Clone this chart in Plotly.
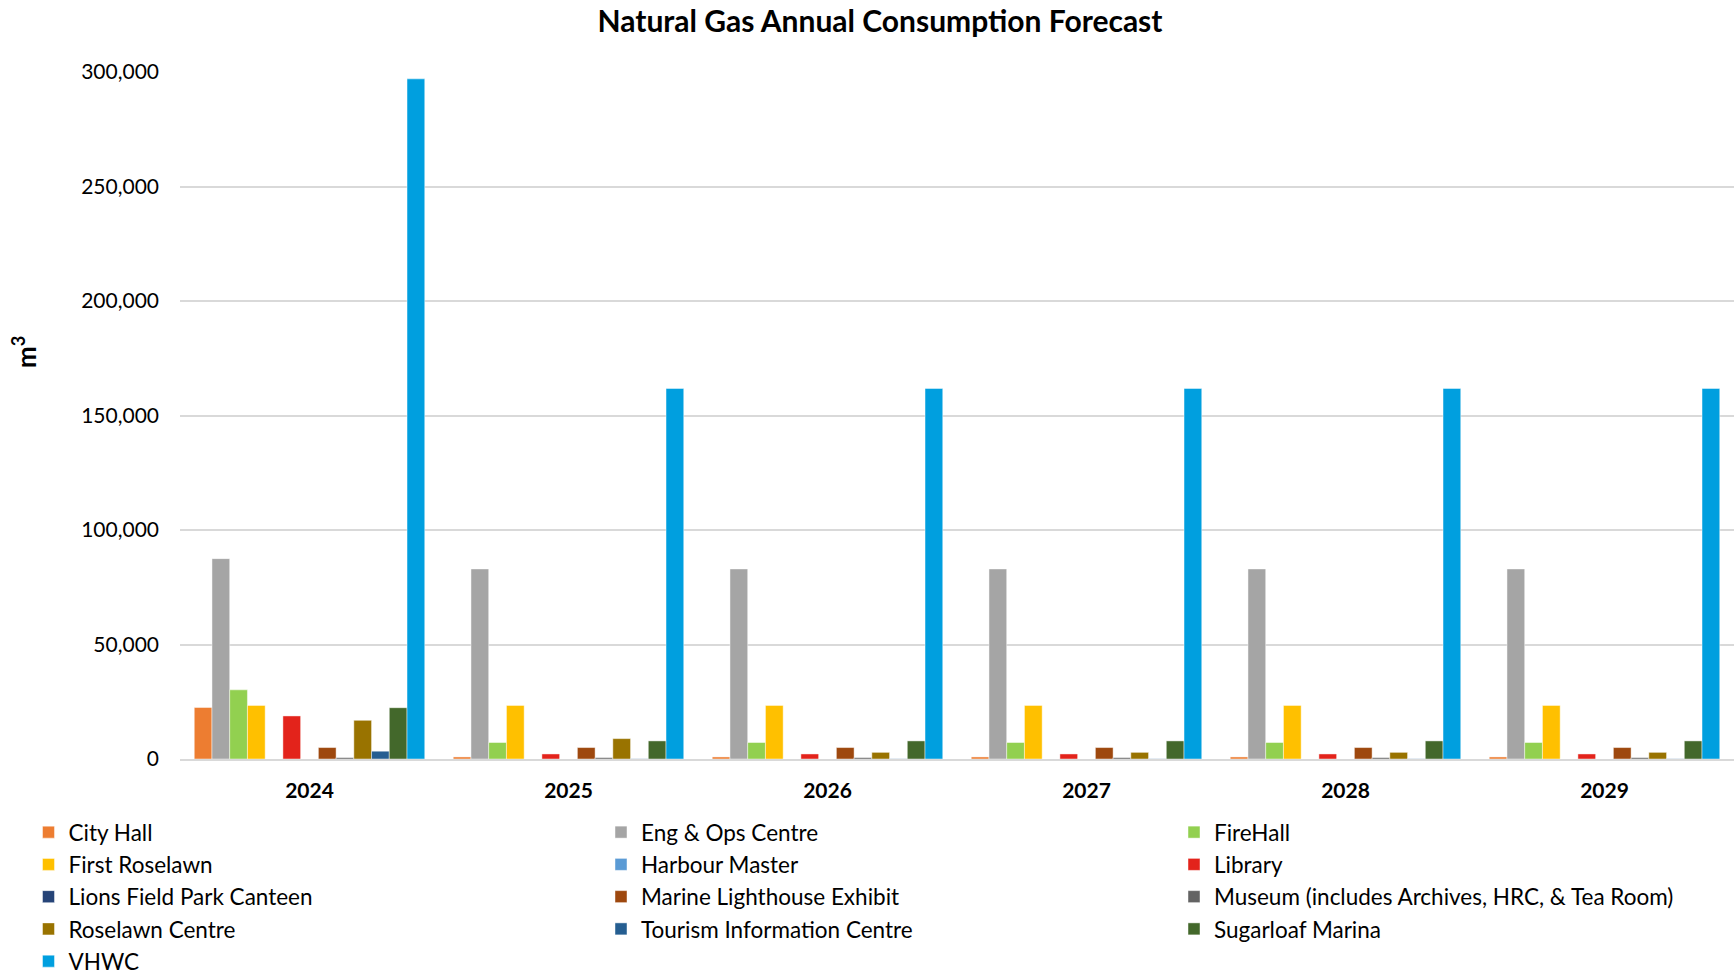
import plotly.graph_objects as go

years = ["2024", "2025", "2026", "2027", "2028", "2029"]

city_hall = [22500, 900, 900, 900, 900, 900]
eng_ops_centre = [87500, 83000, 83000, 83000, 83000, 83000]
firehall = [30200, 7200, 7200, 7200, 7200, 7200]
first_roselawn = [23400, 23400, 23400, 23400, 23400, 23400]
harbour_master = [0, 0, 0, 0, 0, 0]
library = [18800, 2200, 2200, 2200, 2200, 2200]
lions_field_park_canteen = [0, 0, 0, 0, 0, 0]
marine_lighthouse_exhibit = [5000, 5000, 5000, 5000, 5000, 5000]
museum = [600, 600, 600, 600, 600, 600]
roselawn_centre = [16900, 8900, 2900, 2900, 2900, 2900]
tourism_information_centre = [3400, 100, 100, 100, 100, 100]
sugarloaf_marina = [22400, 7900, 7900, 7900, 7900, 7900]
vhwc = [297000, 161800, 161800, 161800, 161800, 161800]

series = [
    ("City Hall", city_hall, "#ED7D31"),
    ("Eng & Ops Centre", eng_ops_centre, "#A5A5A5"),
    ("FireHall", firehall, "#92D050"),
    ("First Roselawn", first_roselawn, "#FFC000"),
    ("Harbour Master", harbour_master, "#5B9BD5"),
    ("Library", library, "#E3231B"),
    ("Lions Field Park Canteen", lions_field_park_canteen, "#264478"),
    ("Marine Lighthouse Exhibit", marine_lighthouse_exhibit, "#9E480E"),
    ("Museum (includes Archives, HRC, & Tea Room)", museum, "#636363"),
    ("Roselawn Centre", roselawn_centre, "#997300"),
    ("Tourism Information Centre", tourism_information_centre, "#255E91"),
    ("Sugarloaf Marina", sugarloaf_marina, "#43682B"),
    ("VHWC", vhwc, "#009FDF"),
]

FONT = "Lato, Calibri, 'Open Sans', sans-serif"

W, H = 1734, 973
L, R, T, B = 180, 0, 72, 214
PW, PH = W - L - R, H - T - B

# legend laid out as three columns, filled row by row
legend_ids = ["legend", "legend2", "legend3"]
column_left = [45.5, 618, 1191]

fig = go.Figure()
for i, (name, vals, color) in enumerate(series):
    fig.add_trace(go.Bar(
        name=name, x=years, y=vals, legend=legend_ids[i % 3], legendgroup=name,
        marker=dict(color=color, line=dict(color="rgba(255,255,255,0.45)", width=1)),
    ))

legend_style = dict(orientation="v", xanchor="left", yanchor="top", xref="paper", yref="paper",
                    traceorder="normal", tracegroupgap=0, bgcolor="rgba(0,0,0,0)",
                    font=dict(size=22.5, family=FONT), itemclick=False, itemdoubleclick=False)
legends = {}
for lid, cx in zip(legend_ids, column_left):
    legends[lid] = dict(legend_style, x=(cx - 17 - L) / PW, y=-(811 - (H - B)) / PH)

fig.update_layout(
    width=W, height=H,
    margin=dict(l=L, r=R, t=T, b=B, autoexpand=False),
    paper_bgcolor="white", plot_bgcolor="white",
    font=dict(family=FONT, size=21, color="#000000"),
    barmode="group", bargap=0.11, bargroupgap=0,
    title=dict(text="<b>Natural Gas Annual Consumption Forecast</b>",
               x=880 / W, xanchor="center", xref="container",
               y=1 - 21 / H, yanchor="middle", yref="container",
               font=dict(size=30, family=FONT)),
    xaxis=dict(showgrid=False, showline=True, linecolor="#D9D9D9", linewidth=1.5,
               tickfont=dict(size=21, family=FONT), ticks="", ticklabelstandoff=12,
               tickprefix="<b>", ticksuffix="</b>"),
    yaxis=dict(range=[0, 300000], tickvals=[0, 50000, 100000, 150000, 200000, 250000, 300000],
               tickformat=",d", showgrid=True, gridcolor="#D9D9D9", gridwidth=1.5,
               zeroline=False, showline=False, ticks="", ticklabelstandoff=20,
               tickfont=dict(size=21, family=FONT)),
    annotations=[dict(text="<b>m<sup>3</sup></b>", xref="paper", yref="paper",
                      x=-(L - 24) / PW, y=(H - B - 352) / PH,
                      xanchor="center", yanchor="middle", textangle=-90, showarrow=False,
                      font=dict(size=26, family=FONT))],
    **legends,
)

fig.write_html("out.html")
